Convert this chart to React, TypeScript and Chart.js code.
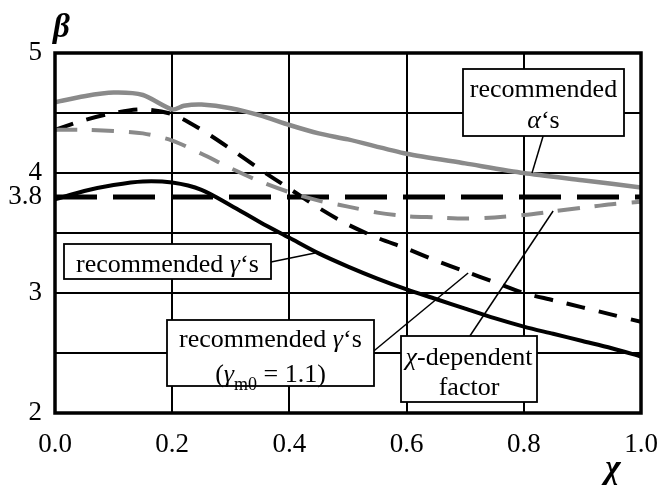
import React, { useEffect, useRef } from "react";
import { Chart, registerables } from "chart.js";

Chart.register(...registerables);

// ---------- data ----------
const chiValues = [0, 0.05, 0.1, 0.15, 0.2, 0.25, 0.3, 0.35, 0.4, 0.45, 0.5, 0.55, 0.6, 0.65, 0.7, 0.75, 0.8, 0.85, 0.9, 0.95, 1.0];

const alphaChi = [0, 0.05, 0.1, 0.15, 0.2, 0.22, 0.25, 0.3, 0.35, 0.4, 0.45, 0.5, 0.6, 0.7, 0.8, 0.9, 1.0];
const alphaBeta = [4.59, 4.64, 4.67, 4.65, 4.53, 4.56, 4.57, 4.54, 4.48, 4.4, 4.33, 4.28, 4.16, 4.08, 4.0, 3.94, 3.88];

const gammaBeta = [3.78, 3.85, 3.9, 3.93, 3.92, 3.86, 3.73, 3.59, 3.46, 3.33, 3.22, 3.12, 3.03, 2.95, 2.87, 2.79, 2.72, 2.66, 2.6, 2.54, 2.47];
const gammaM0Beta = [4.36, 4.44, 4.5, 4.53, 4.49, 4.36, 4.2, 4.03, 3.87, 3.71, 3.57, 3.46, 3.37, 3.27, 3.18, 3.09, 3.0, 2.94, 2.88, 2.82, 2.76];
const chiFactorBeta = [4.36, 4.36, 4.35, 4.33, 4.27, 4.16, 4.04, 3.93, 3.84, 3.77, 3.72, 3.67, 3.64, 3.63, 3.62, 3.63, 3.65, 3.68, 3.71, 3.74, 3.76];

const targetChi = [0, 1];
const targetBeta = [3.8, 3.8];

const xTickValues = [0, 0.2, 0.4, 0.6, 0.8, 1.0];
const yTickValues = [2, 2.5, 3, 3.5, 3.8, 4, 4.5, 5];
const yTickLabels = ["2", "", "3", "", "3.8", "4", "", "5"];

// ---------- annotation layout ----------
type Run = { t: string; it?: boolean; sub?: boolean };
const FONT = '"Liberation Serif", "Times New Roman", serif';
const GRAY = "#8a8a8a";

const notes: {
  box: [number, number, number, number];
  lines: Run[][];
  baselines: number[];
  leader: [[number, number], [number, number]];
}[] = [
  {
    box: [0.696, 0.971, 4.867, 4.308],
    lines: [[{ t: "recommended" }], [{ t: "α", it: true }, { t: "‘s" }]],
    baselines: [28, 59],
    leader: [[0.833, 4.308], [0.814, 4.0]],
  },
  {
    box: [0.0154, 0.3686, 3.408, 3.117],
    lines: [[{ t: "recommended " }, { t: "γ", it: true }, { t: "‘s" }]],
    baselines: [28],
    leader: [[0.3686, 3.258], [0.4437, 3.333]],
  },
  {
    box: [0.191, 0.544, 2.775, 2.225],
    lines: [
      [{ t: "recommended " }, { t: "γ", it: true }, { t: "‘s" }],
      [{ t: "(" }, { t: "γ", it: true }, { t: "m0", sub: true }, { t: " = 1.1)" }],
    ],
    baselines: [27, 62],
    leader: [[0.544, 2.517], [0.705, 3.167]],
  },
  {
    box: [0.59, 0.823, 2.642, 2.092],
    lines: [[{ t: "χ", it: true }, { t: "-dependent" }], [{ t: "factor" }]],
    baselines: [29, 59],
    leader: [[0.708, 2.642], [0.85, 3.683]],
  },
];

function runFont(r: Run, size: number) {
  const s = r.sub ? Math.round(size * 0.68) : size;
  return `${r.it ? "italic " : ""}${s}px ${FONT}`;
}

function drawRuns(ctx: CanvasRenderingContext2D, runs: Run[], cx: number, by: number, size: number) {
  let total = 0;
  const widths = runs.map((r) => {
    ctx.font = runFont(r, size);
    const w = ctx.measureText(r.t).width;
    total += w;
    return w;
  });
  let x = cx - total / 2;
  ctx.textAlign = "left";
  ctx.textBaseline = "alphabetic";
  runs.forEach((r, i) => {
    ctx.font = runFont(r, size);
    ctx.fillText(r.t, x, by + (r.sub ? size * 0.3 : 0));
    x += widths[i];
  });
}

const overlay = {
  id: "overlay",
  afterDatasetsDraw(chart: any) {
    const { ctx, chartArea: a, scales } = chart;
    const xs = scales.x;
    const ys = scales.y;
    ctx.save();
    ctx.fillStyle = "#000";
    ctx.strokeStyle = "#000";

    // leader lines
    ctx.lineWidth = 1.5;
    notes.forEach((n) => {
      ctx.beginPath();
      ctx.moveTo(xs.getPixelForValue(n.leader[0][0]), ys.getPixelForValue(n.leader[0][1]));
      ctx.lineTo(xs.getPixelForValue(n.leader[1][0]), ys.getPixelForValue(n.leader[1][1]));
      ctx.stroke();
    });

    // frame
    ctx.lineWidth = 3.5;
    ctx.strokeRect(a.left, a.top, a.right - a.left, a.bottom - a.top);

    // boxes
    notes.forEach((n) => {
      const l = Math.round(xs.getPixelForValue(n.box[0]));
      const r = Math.round(xs.getPixelForValue(n.box[1]));
      const t = Math.round(ys.getPixelForValue(n.box[2]));
      const b = Math.round(ys.getPixelForValue(n.box[3]));
      ctx.fillStyle = "#fff";
      ctx.fillRect(l, t, r - l, b - t);
      ctx.lineWidth = 1.8;
      ctx.strokeStyle = "#000";
      ctx.strokeRect(l, t, r - l, b - t);
      ctx.fillStyle = "#000";
      n.lines.forEach((line, i) => drawRuns(ctx, line, (l + r) / 2, t + n.baselines[i], 26));
    });

    // axis titles
    ctx.fillStyle = "#000";
    ctx.textAlign = "left";
    ctx.textBaseline = "alphabetic";
    ctx.font = `italic bold 33px ${FONT}`;
    ctx.fillText("β", a.left - 2, 37);
    ctx.textAlign = "center";
    ctx.font = `italic bold 33px ${FONT}`;
    ctx.fillText("χ", a.right - 28, 478);
    ctx.restore();
  },
};

export default function App() {
  const ref = useRef<HTMLCanvasElement | null>(null);

  useEffect(() => {
    if (!ref.current) return;
    const pts = (xv: number[], yv: number[]) => xv.map((c, i) => ({ x: c, y: yv[i] }));
    const chart = new Chart(ref.current, {
      type: "line",
      data: {
        datasets: [
          {
            label: "recommended α's",
            data: pts(alphaChi, alphaBeta),
            borderColor: GRAY,
            borderWidth: 4.5,
            pointRadius: 0,
            tension: 0.25,
          },
          {
            label: "χ-dependent factor",
            data: pts(chiValues, chiFactorBeta),
            borderColor: GRAY,
            borderWidth: 4,
            borderDash: [22, 15],
            pointRadius: 0,
            tension: 0.3,
          },
          {
            label: "recommended γ's (γm0 = 1.1)",
            data: pts(chiValues, gammaM0Beta),
            borderColor: "#000",
            borderWidth: 4,
            borderDash: [19, 14],
            pointRadius: 0,
            tension: 0.3,
          },
          {
            label: "recommended γ's",
            data: pts(chiValues, gammaBeta),
            borderColor: "#000",
            borderWidth: 4,
            pointRadius: 0,
            tension: 0.3,
          },
          {
            label: "target β",
            data: pts(targetChi, targetBeta),
            borderColor: "#000",
            borderWidth: 5,
            borderDash: [42, 16],
            pointRadius: 0,
          },
        ],
      },
      options: {
        animation: false,
        responsive: false,
        devicePixelRatio: 1,
        layout: { padding: { top: 53, right: 18, left: 0, bottom: 0 } },
        plugins: { legend: { display: false }, tooltip: { enabled: false } },
        scales: {
          x: {
            type: "linear",
            min: 0,
            max: 1,
            afterBuildTicks: (s: any) => {
              s.ticks = xTickValues.map((v) => ({ value: v }));
            },
            afterFit: (s: any) => {
              s.height = 75;
              s.paddingLeft = 0;
              s.paddingRight = 0;
            },
            ticks: {
              autoSkip: false,
              maxRotation: 0,
              padding: 16,
              color: "#000",
              font: { family: FONT, size: 27 },
              callback: (v: any) => Number(v).toFixed(1),
            },
            grid: { color: "#000", lineWidth: 2, drawTicks: false },
            border: { display: false },
          },
          y: {
            type: "linear",
            min: 2,
            max: 5,
            afterBuildTicks: (s: any) => {
              s.ticks = yTickValues.map((v) => ({ value: v }));
            },
            afterFit: (s: any) => {
              s.width = 55;
              s.paddingTop = 0;
              s.paddingBottom = 0;
            },
            ticks: {
              autoSkip: false,
              padding: 13,
              color: "#000",
              font: { family: FONT, size: 27 },
              callback: (_v: any, i: number) => yTickLabels[i],
            },
            grid: {
              color: (c: any) => (c.tick && c.tick.value === 3.8 ? "rgba(0,0,0,0)" : "#000"),
              lineWidth: 2,
              drawTicks: false,
            },
            border: { display: false },
          },
        },
      },
      plugins: [overlay],
    } as any);
    return () => chart.destroy();
  }, []);

  return (
    <div style={{ position: "fixed", left: 0, top: 0, width: 659, height: 488, background: "#fff" }}>
      <canvas ref={ref} width={659} height={488} style={{ display: "block" }} />
    </div>
  );
}
